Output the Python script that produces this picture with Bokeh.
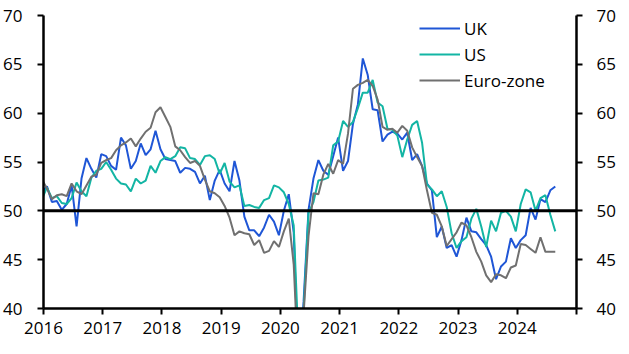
from bokeh.plotting import figure
from bokeh.models import Range1d, LinearAxis, FixedTicker, Span, Legend, LegendItem
from bokeh.embed import file_html
from bokeh.resources import INLINE

# Monthly manufacturing PMIs, Dec 2015 .. Aug 2024
start_year = 2015
start_month = 12

uk = [51.9,
      52.5, 50.9, 51.0, 50.1, 50.7, 52.6, 48.4, 53.3, 55.4, 54.3, 53.4, 55.8,
      55.6, 54.6, 54.2, 57.5, 56.7, 54.3, 55.1, 56.9, 55.7, 56.3, 58.2, 56.3,
      55.3, 55.2, 55.1, 53.9, 54.4, 54.3, 54.0, 52.8, 53.6, 51.1, 53.1, 54.2,
      52.8, 52.0, 55.1, 53.1, 49.4, 48.0, 48.0, 47.4, 48.3, 49.6, 48.9, 47.5,
      50.0, 51.7, 47.8, 32.6, 40.7, 50.1, 53.3, 55.2, 54.1, 53.7, 55.6, 57.5,
      54.1, 55.1, 58.9, 60.9, 65.6, 63.9, 60.4, 60.3, 57.1, 57.8, 58.1, 57.9,
      57.3, 58.0, 55.2, 55.8, 54.6, 52.8, 52.1, 47.3, 48.4, 46.2, 46.5, 45.3,
      47.0, 49.3, 47.9, 47.8, 47.1, 46.5, 45.3, 43.0, 44.3, 44.8, 47.2, 46.2,
      47.0, 47.5, 50.3, 49.1, 51.2, 50.9, 52.1, 52.5]

us = [51.2,
      52.4, 51.3, 51.5, 50.8, 50.7, 51.3, 52.9, 52.0, 51.5, 53.4, 54.1, 54.3,
      55.0, 54.2, 53.3, 52.8, 52.7, 52.0, 53.3, 52.8, 53.1, 54.6, 53.9, 55.1,
      55.5, 55.3, 55.6, 56.5, 56.4, 55.4, 55.3, 54.7, 55.6, 55.7, 55.3, 53.8,
      54.9, 53.0, 52.4, 52.6, 50.5, 50.6, 50.4, 50.3, 51.1, 51.3, 52.6, 52.4,
      51.9, 50.7, 48.5, 36.1, 39.8, 49.8, 50.9, 53.1, 53.2, 53.4, 56.7, 57.1,
      59.2, 58.6, 59.1, 60.5, 62.1, 62.1, 63.4, 61.1, 60.7, 58.4, 58.3, 57.7,
      55.5, 57.3, 58.8, 59.2, 57.0, 52.7, 52.2, 51.5, 52.0, 50.4, 47.7, 46.2,
      46.9, 47.3, 49.2, 50.2, 48.4, 46.3, 49.0, 47.9, 49.8, 50.0, 49.4, 47.9,
      50.7, 52.2, 51.9, 50.0, 51.3, 51.6, 49.6, 47.9]

ez = [53.2,
      52.3, 51.2, 51.6, 51.7, 51.5, 52.8, 52.0, 51.7, 52.6, 53.5, 53.7, 54.9,
      55.2, 55.4, 56.2, 56.7, 57.0, 57.4, 56.6, 57.4, 58.1, 58.5, 60.1, 60.6,
      59.6, 58.6, 56.6, 56.2, 55.5, 54.9, 55.1, 54.6, 53.2, 52.0, 51.8, 51.4,
      50.5, 49.3, 47.5, 47.9, 47.7, 47.6, 46.5, 47.0, 45.7, 45.9, 46.9, 46.3,
      47.9, 49.2, 44.5, 33.4, 39.4, 47.4, 51.8, 51.7, 53.7, 54.8, 53.8, 55.2,
      54.8, 57.9, 62.5, 62.9, 63.1, 63.4, 62.8, 61.4, 58.6, 58.3, 58.4, 58.0,
      58.7, 58.2, 56.5, 55.5, 54.6, 52.1, 49.8, 49.6, 48.4, 46.4, 47.1, 47.8,
      48.8, 48.5, 47.3, 45.8, 44.8, 43.4, 42.7, 43.5, 43.4, 43.1, 44.2, 44.4,
      46.6, 46.5, 46.1, 45.7, 47.3, 45.8, 45.8, 45.8]

x_ticks = [2016, 2017, 2018, 2019, 2020, 2021, 2022, 2023, 2024, 2025]
y_ticks = [40, 45, 50, 55, 60, 65, 70]

series_names = ["UK", "US", "Euro-zone"]
series_colors = ["#1F56D6", "#13B5A4", "#707070"]

# x positions: fractional years (points sit ~0.7 month into each month)
n = len(uk)
xs = []
for i in range(n):
    mi = (start_month - 1) + i
    xs.append(start_year + mi // 12 + ((mi % 12) + 0.7) / 12.0)

FONT = "Open Sans"

p = figure(width=629, height=354, output_backend="svg", toolbar_location=None,
           x_range=Range1d(2016, 2025), y_range=Range1d(40, 70))
p.min_border_left = 42
p.min_border_right = 53
p.min_border_top = 15
p.min_border_bottom = 46
p.outline_line_color = None
p.xgrid.visible = False
p.ygrid.visible = False
p.background_fill_color = "white"
p.border_fill_color = "white"

renderers = []
for name, col, ys in zip(series_names, series_colors, [uk, us, ez]):
    r = p.line(xs, ys, line_color=col, line_width=2)
    renderers.append(r)

p.add_layout(Span(location=50, dimension="width", line_color="black", line_width=3))

right = LinearAxis()
p.add_layout(right, "right")

for ax in [p.xaxis[0], p.yaxis[0], right]:
    ax.axis_line_color = "black"
    ax.axis_line_width = 2.5
    ax.major_tick_line_color = "black"
    ax.major_tick_line_width = 2
    ax.major_tick_out = 6
    ax.major_tick_in = 0
    ax.minor_tick_line_color = None
    ax.major_label_text_font = FONT
    ax.major_label_text_font_size = "17px"
    ax.major_label_text_color = "black"

p.xaxis[0].ticker = FixedTicker(ticks=x_ticks)
p.xaxis[0].major_label_overrides = {2025: ""}
p.xaxis[0].major_label_standoff = 7
p.yaxis[0].ticker = FixedTicker(ticks=y_ticks)
p.yaxis[0].major_label_standoff = 15
right.ticker = FixedTicker(ticks=y_ticks)
right.major_label_standoff = 14

legend = Legend(items=[LegendItem(label=nm, renderers=[r]) for nm, r in zip(series_names, renderers)],
                location=(376, 215))
legend.padding = 0
legend.margin = 0
legend.spacing = 0
legend.border_line_alpha = 0
legend.background_fill_alpha = 0
legend.glyph_width = 41
legend.glyph_height = 26
legend.label_height = 26
legend.label_standoff = 4
legend.label_text_font = FONT
legend.label_text_font_size = "17px"
legend.label_text_color = "black"
p.add_layout(legend)

open("out.html", "w").write(file_html(p, INLINE))
